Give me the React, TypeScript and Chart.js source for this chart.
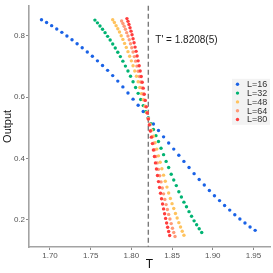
import React, { useEffect, useRef } from "react";
import { Chart, registerables } from "chart.js";

Chart.register(...registerables);

// ---- data ----
const TC = 1.8208;
const TC_LABEL = "T' = 1.8208(5)";
const SIZES = [16, 32, 48, 64, 80];
const SERIES_LABELS = ["L=16", "L=32", "L=48", "L=64", "L=80"];
const COLORS = ["#1a62e6", "#00b372", "#ffc35e", "#ff9a78", "#ff3d3d"];

// scaled variable (T - Tc) * L used for sampling each system size
const SCALED_X = [
  -2.1, -2.0, -1.9, -1.8, -1.7, -1.6, -1.5, -1.4, -1.3, -1.2, -1.1, -1.0, -0.9, -0.8,
  -0.7, -0.6, -0.5, -0.4, -0.3, -0.2, -0.1, 0.0, 0.1, 0.2, 0.3, 0.4, 0.5, 0.6, 0.7,
  0.8, 0.9, 1.0, 1.1, 1.2, 1.3, 1.4, 1.5, 1.6, 1.7, 1.8, 1.9, 2.0, 2.1,
];

const Y_L16 = [
  0.852, 0.843, 0.833, 0.822, 0.811, 0.799, 0.787, 0.774, 0.761, 0.747, 0.733, 0.718,
  0.703, 0.687, 0.67, 0.652, 0.633, 0.613, 0.593, 0.573, 0.553, 0.532, 0.512, 0.491,
  0.47, 0.45, 0.43, 0.41, 0.39, 0.37, 0.35, 0.331, 0.313, 0.295, 0.278, 0.262, 0.246,
  0.231, 0.216, 0.202, 0.189, 0.176, 0.165,
];
const Y_L32 = [
  0.851, 0.842, 0.832, 0.821, 0.81, 0.798, 0.786, 0.773, 0.76, 0.746, 0.732, 0.717,
  0.701, 0.685, 0.668, 0.65, 0.631, 0.612, 0.592, 0.572, 0.552, 0.532, 0.513, 0.494,
  0.474, 0.455, 0.433, 0.412, 0.39, 0.37, 0.348, 0.329, 0.311, 0.291, 0.274, 0.257,
  0.242, 0.226, 0.211, 0.196, 0.183, 0.17, 0.158,
];
const Y_L48 = [
  0.852, 0.843, 0.833, 0.823, 0.812, 0.8, 0.788, 0.775, 0.762, 0.748, 0.733, 0.718,
  0.702, 0.685, 0.668, 0.65, 0.631, 0.611, 0.591, 0.57, 0.55, 0.53, 0.511, 0.492,
  0.472, 0.451, 0.43, 0.408, 0.387, 0.366, 0.345, 0.325, 0.306, 0.287, 0.269, 0.252,
  0.236, 0.22, 0.205, 0.19, 0.176, 0.162, 0.149,
];
const Y_L64 = [
  0.848, 0.84, 0.831, 0.821, 0.81, 0.799, 0.787, 0.774, 0.761, 0.747, 0.732, 0.717,
  0.701, 0.684, 0.667, 0.649, 0.63, 0.61, 0.59, 0.569, 0.549, 0.529, 0.51, 0.49,
  0.47, 0.449, 0.428, 0.406, 0.385, 0.364, 0.343, 0.323, 0.303, 0.284, 0.266, 0.249,
  0.233, 0.217, 0.202, 0.187, 0.172, 0.158, 0.145,
];
const Y_L80 = [
  0.856, 0.847, 0.837, 0.826, 0.815, 0.803, 0.79, 0.777, 0.763, 0.749, 0.734, 0.718,
  0.702, 0.685, 0.667, 0.648, 0.629, 0.609, 0.589, 0.568, 0.548, 0.528, 0.509, 0.489,
  0.469, 0.448, 0.427, 0.406, 0.385, 0.365, 0.344, 0.324, 0.305, 0.286, 0.268, 0.251,
  0.235, 0.219, 0.204, 0.189, 0.175, 0.161, 0.148,
];
const Y_SERIES = [Y_L16, Y_L32, Y_L48, Y_L64, Y_L80];

const X_TICKS = [1.7, 1.75, 1.8, 1.85, 1.9, 1.95];
const Y_TICKS = [0.2, 0.4, 0.6, 0.8];
const X_TITLE = "T";
const Y_TITLE = "Output";

const FONT = "'Liberation Sans', Arial, sans-serif";

const overlayPlugin = {
  id: "overlay",
  beforeDatasetsDraw(chart: any) {
    const { ctx, chartArea, scales } = chart;
    const x = scales.x.getPixelForValue(TC);
    ctx.save();
    ctx.strokeStyle = "#7a7a7a";
    ctx.lineWidth = 1.4;
    ctx.setLineDash([5, 3]);
    ctx.beginPath();
    ctx.moveTo(x, chartArea.top);
    ctx.lineTo(x, chartArea.bottom);
    ctx.stroke();
    ctx.restore();
  },
  afterDatasetsDraw(chart: any) {
    const { ctx, chartArea, scales } = chart;
    const x = scales.x.getPixelForValue(TC);
    ctx.save();
    ctx.fillStyle = "#1a1a1a";
    ctx.font = `10px ${FONT}`;
    ctx.textBaseline = "middle";
    ctx.textAlign = "left";
    ctx.fillText(TC_LABEL, x + 7, scales.y.getPixelForValue(0.785));

    // legend
    const boxW = 38;
    const rowH = 8.8;
    const boxRight = chartArea.right;
    const boxLeft = boxRight - boxW;
    const boxTop = chartArea.top + 73;
    const boxH = rowH * SERIES_LABELS.length + 2;
    ctx.fillStyle = "#f3f3f3";
    ctx.fillRect(boxLeft, boxTop, boxW, boxH);
    ctx.font = `9px ${FONT}`;
    SERIES_LABELS.forEach((lab, i) => {
      const cy = boxTop + 5.5 + i * rowH;
      ctx.fillStyle = COLORS[i];
      ctx.beginPath();
      ctx.arc(boxLeft + 5.5, cy, 1.7, 0, Math.PI * 2);
      ctx.fill();
      ctx.fillStyle = "#333333";
      ctx.fillText(lab, boxLeft + 15, cy + 0.5);
    });
    ctx.restore();
  },
};

export default function App() {
  const ref = useRef<HTMLCanvasElement | null>(null);

  useEffect(() => {
    if (!ref.current) return;
    const datasets = SIZES.map((L, i) => ({
      label: SERIES_LABELS[i],
      data: SCALED_X.map((s, k) => ({ x: TC + s / L, y: Y_SERIES[i][k] })),
      backgroundColor: COLORS[i],
      borderColor: COLORS[i],
      borderWidth: 0,
      pointRadius: 1.7,
      pointHoverRadius: 1.7,
      showLine: false,
      order: SIZES.length - i,
    }));

    const chart = new Chart(ref.current, {
      type: "scatter",
      data: { datasets },
      plugins: [overlayPlugin],
      options: {
        animation: false,
        responsive: false,
        devicePixelRatio: 1,
        layout: { padding: { top: 3, right: 3, left: 0, bottom: 0 } },
        plugins: {
          legend: { display: false },
          tooltip: { enabled: false },
        },
        scales: {
          x: {
            type: "linear",
            min: 1.6742,
            max: 1.9703,
            afterFit: (s: any) => {
              s.height = 26;
            },
            afterBuildTicks: (s: any) => {
              s.ticks = X_TICKS.map((v) => ({ value: v }));
            },
            ticks: {
              color: "#555555",
              font: { size: 8, family: FONT },
              padding: 1,
              maxRotation: 0,
              autoSkip: false,
              callback: (v: any) => Number(v).toFixed(2),
            },
            grid: {
              drawOnChartArea: false,
              drawTicks: true,
              tickLength: 3,
              color: "#8a8a8a",
            },
            border: { display: true, color: "#a3a3a3", width: 1.6 },
            title: {
              display: true,
              text: X_TITLE,
              color: "#111111",
              font: { size: 12, family: FONT },
              padding: { top: 0, bottom: 1 },
            },
          },
          y: {
            type: "linear",
            min: 0.1106,
            max: 0.8977,
            afterFit: (s: any) => {
              s.width = 29;
            },
            afterBuildTicks: (s: any) => {
              s.ticks = Y_TICKS.map((v) => ({ value: v }));
            },
            ticks: {
              color: "#555555",
              font: { size: 8, family: FONT },
              padding: 1,
              autoSkip: false,
              callback: (v: any) => Number(v).toFixed(1),
            },
            grid: {
              drawOnChartArea: false,
              drawTicks: true,
              tickLength: 3,
              color: "#8a8a8a",
            },
            border: { display: true, color: "#a3a3a3", width: 1.6 },
            title: {
              display: true,
              text: Y_TITLE,
              color: "#111111",
              font: { size: 11, family: FONT },
              padding: { top: 1, bottom: 0 },
            },
          },
        },
      },
    });
    return () => chart.destroy();
  }, []);

  return (
    <div style={{ position: "absolute", left: 0, top: 0, width: 273, height: 273, background: "#ffffff" }}>
      <canvas ref={ref} width={273} height={273} style={{ display: "block", width: 273, height: 273 }} />
    </div>
  );
}
